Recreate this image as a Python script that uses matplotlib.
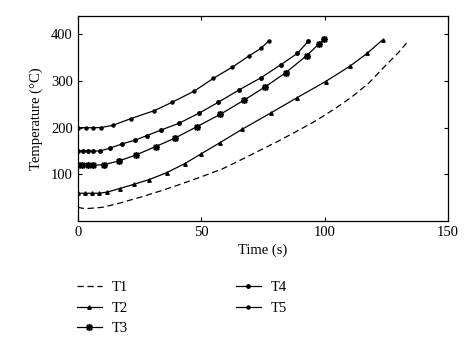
import matplotlib
matplotlib.use("Agg")
import matplotlib.pyplot as plt

plt.rcParams["font.family"] = ["Liberation Serif", "DejaVu Serif"]

# T1 (dashed)
t1_time = [0, 3, 10, 17, 25, 33, 41, 49, 58.7, 68, 81.6, 88, 95, 100, 105, 111, 118, 124.6, 130, 134]
t1_temp = [30, 27, 30, 39, 51, 64, 78, 93, 112, 136, 172, 190, 210, 226, 243, 265, 295, 331.5, 360, 385]

# T2 (triangles)
t2_time = [0, 2.9, 5.6, 8.6, 11.9, 17, 22.7, 28.9, 36.1, 43.3, 50, 57.7, 66.5, 78.2, 89, 100.4, 110.5, 117.2, 123.5]
t2_temp = [60, 60, 60, 60, 62.5, 70, 79, 89, 104, 123, 144, 168, 196, 231, 264, 298, 331.5, 358, 386.5]

# T3 (asterisks)
t3_time = [0, 1.6, 4, 6.3, 10.7, 16.8, 23.8, 31.6, 39.6, 48.2, 57.7, 67.5, 75.9, 84.3, 92.7, 97.7, 99.7]
t3_temp = [120, 119.5, 119.5, 119.5, 121, 129, 142, 159.5, 178, 201.7, 228, 258.7, 286.5, 317, 353, 378, 388.6]

# T4 (dots)
t4_time = [0, 2, 4, 6.3, 9, 13, 17.9, 23.1, 28.1, 33.9, 41, 49.3, 57, 65.3, 74.4, 82.2, 89, 93.4]
t4_temp = [150, 150, 150, 150, 150, 156, 165, 173, 183, 195, 209, 231, 254, 280, 306.6, 333.6, 358, 384]

# T5 (dots)
t5_time = [0, 3.4, 6.3, 9.3, 14.1, 21.4, 31, 38.3, 47.3, 55, 62.7, 69.5, 74.2, 77.3]
t5_temp = [200, 199.6, 199.6, 200, 204.5, 218.8, 236, 254, 278, 305, 329, 353, 368.7, 384]

fig = plt.figure(figsize=(4.74, 3.52), dpi=100)
ax = fig.add_axes([0.164, 0.371, 0.781, 0.584])

lw = 0.9
ax.plot(t1_time, t1_temp, "k--", lw=lw, dashes=(5, 3), label="T1")
ax.plot(t2_time, t2_temp, "k-", lw=lw, marker="^", ms=2.5, label="T2")
ax.plot(t3_time, t3_temp, "k-", lw=lw, marker=(8, 2, 0), ms=5, mew=1.1, label="T3")
ax.plot(t4_time, t4_temp, "k-", lw=lw, marker="o", ms=2.5, label="T4")
ax.plot(t5_time, t5_temp, "k-", lw=lw, marker="o", ms=2.2, label="T5")

fs = 10.5
ax.set_xlim(0, 150)
ax.set_ylim(0, 438)
ax.set_xticks([0, 50, 100, 150])
ax.set_yticks([100, 200, 300, 400])
ax.tick_params(direction="in", top=True, right=True, labelsize=fs, length=3, width=0.8)
for s in ax.spines.values():
    s.set_linewidth(0.9)
ax.set_xlabel("Time (s)", fontsize=fs, labelpad=3)
ax.set_ylabel("Temperature (°C)", fontsize=fs, labelpad=6)

fig.legend(loc="upper left", bbox_to_anchor=(0.162, 0.202), ncol=2, frameon=False,
           fontsize=fs, borderpad=0, borderaxespad=0, handlelength=1.7,
           handletextpad=0.7, columnspacing=7.4, labelspacing=0.5)

fig.savefig("out.png", dpi=100)
